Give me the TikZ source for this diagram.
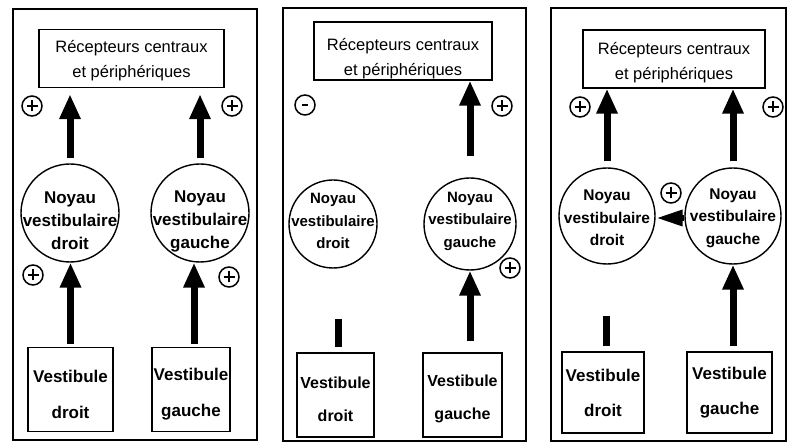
\documentclass[tikz,border=0pt]{standalone}
\usepackage{fontspec}
\setmainfont{Liberation Sans}
\usetikzlibrary{arrows.meta}
\begin{document}
\begin{tikzpicture}[x=1pt,y=-1pt,
  panel/.style={draw, line width=2pt},
  shapebox/.style={draw, line width=1.4pt, inner sep=0pt},
  noyau/.style={draw, circle, line width=1.4pt, inner sep=0pt},
  rectext/.style={align=center, inner sep=0pt, font=\fontsize{16.5}{25}\selectfont},
  noyautext/.style={align=center, inner sep=0pt, font=\bfseries\fontsize{17}{23}\selectfont},
  vesttext/.style={align=center, inner sep=0pt, font=\bfseries\fontsize{17}{36}\selectfont},
  sign/.style={draw, circle, line width=1.5pt, minimum size=20pt, inner sep=0pt},
  plussign/.style={sign, path picture={
      \draw[line width=1.5pt] (path picture bounding box.center) +(-5.5pt,0pt) -- +(5.5pt,0pt)
        (path picture bounding box.center) +(0pt,-5.5pt) -- +(0pt,5.5pt);}},
  minussign/.style={sign, path picture={
      \draw[line width=1.5pt] (path picture bounding box.center) +(-3pt,0pt) -- +(3pt,0pt);}},
  bigarrow/.style={line width=7pt, -{Triangle[width=20pt,length=25pt]}},
  sidearrow/.style={line width=6pt, -{Triangle[width=15pt,length=27pt]}},
  stub/.style={line width=7pt}
]
\useasboundingbox (0,0) rectangle (787,446);

% ---------- left panel: both sides excited ----------
\draw[panel] (13,9) rectangle (257,440);
\node[shapebox, minimum width=185pt, minimum height=58pt] (rec1) at (131.5,58.5) {};
\node[rectext] (rec1t) at ([yshift=-2.5pt]rec1.center) {Récepteurs centraux\\et périphériques};
\node[plussign] (p1a) at (32,106) {};
\node[plussign] (p1b) at (232,106) {};
\node[noyau, minimum size=98pt] (nd1) at (70,213) {};
\node[noyautext] (nd1t) at ([yshift=-8pt]nd1.center) {Noyau\\vestibulaire\\droit};
\node[noyau, minimum size=98pt] (ng1) at (200,213) {};
\node[noyautext] (ng1t) at ([yshift=-8pt]ng1.center) {Noyau\\vestibulaire\\gauche};
\node[plussign] (p1c) at (33,275) {};
\node[plussign] (p1d) at (229,277) {};
\node[shapebox, minimum width=85pt, minimum height=84pt] (vd1) at (70.5,389.5) {};
\node[vesttext] (vd1t) at ([yshift=-5pt]vd1.center) {Vestibule\\droit};
\node[shapebox, minimum width=78pt, minimum height=84pt] (vg1) at (191,389.5) {};
\node[vesttext] (vg1t) at ([yshift=-5pt]vg1.center) {Vestibule\\gauche};
\draw[bigarrow, shorten <=5pt, shorten >=6pt] (nd1.north) -- (nd1.north |- rec1.south);
\draw[bigarrow, shorten <=5pt, shorten >=6pt] (ng1.north) -- (ng1.north |- rec1.south);
\draw[bigarrow, shorten <=3pt] (vd1.north) -- (vd1.north |- nd1.south);
\draw[bigarrow, shorten <=3pt] ([xshift=3pt]vg1.north) -- ([xshift=3pt]vg1.north |- ng1.south);

% ---------- middle panel: right side silent ----------
\draw[panel] (283,8) rectangle (526,441);
\node[shapebox, minimum width=178pt, minimum height=58pt] (rec2) at (403,51) {};
\node[rectext] (rec2t) at ([yshift=-8pt]rec2.center) {Récepteurs centraux\\et périphériques};
\node[minussign] (m2a) at (305,105) {};
\node[plussign] (p2b) at (502,106) {};
\node[noyau, minimum size=88pt] (nd2) at (333,224) {};
\node[noyautext, font=\bfseries\fontsize{15}{22.5}\selectfont] (nd2t) at ([yshift=3pt]nd2.center) {Noyau\\vestibulaire\\droit};
\node[noyau, minimum size=92pt] (ng2) at (470,224) {};
\node[noyautext, font=\bfseries\fontsize{15}{22.5}\selectfont] (ng2t) at ([yshift=3pt]ng2.center) {Noyau\\vestibulaire\\gauche};
\node[plussign] (p2c) at (510,268) {};
\node[shapebox, minimum width=77pt, minimum height=84pt] (vd2) at (335.5,395) {};
\node[vesttext, font=\bfseries\fontsize{16}{33}\selectfont] (vd2t) at ([yshift=-4pt]vd2.center) {Vestibule\\droit};
\node[shapebox, minimum width=79pt, minimum height=84pt] (vg2) at (462.5,395) {};
\node[vesttext, font=\bfseries\fontsize{16}{33}\selectfont] (vg2t) at ([yshift=-4pt]vg2.center) {Vestibule\\gauche};
\draw[bigarrow, shorten <=21pt] (ng2.north) -- (ng2.north |- rec2.south);
\draw[bigarrow, shorten <=11pt] (ng2.south |- vg2.north) -- (ng2.south);
\draw[stub, shorten <=5pt, shorten >=50pt] ([xshift=2.5pt]vd2.north) -- ([xshift=2.5pt]vd2.north |- nd2.south);

% ---------- right panel: commissural drive ----------
\draw[panel] (551,8) rectangle (785.5,441);
\node[shapebox, minimum width=182pt, minimum height=58pt] (rec3) at (674,59) {};
\node[rectext] (rec3t) at ([yshift=-4pt]rec3.center) {Récepteurs centraux\\et périphériques};
\node[plussign] (p3a) at (580,107) {};
\node[plussign] (p3b) at (773,107) {};
\node[noyau, minimum size=96pt] (nd3) at (607,216) {};
\node[noyautext, font=\bfseries\fontsize{15.5}{22.5}\selectfont] (nd3t) at ([yshift=-2pt]nd3.center) {Noyau\\vestibulaire\\droit};
\node[noyau, minimum size=96pt] (ng3) at (733,216) {};
\node[noyautext, font=\bfseries\fontsize{15.5}{22.5}\selectfont] (ng3t) at ([yshift=-2pt]ng3.center) {Noyau\\vestibulaire\\gauche};
\node[plussign] (p3c) at (671,193) {};
\node[shapebox, minimum width=82pt, minimum height=81pt] (vd3) at (603,392.5) {};
\node[vesttext, font=\bfseries\fontsize{17}{35}\selectfont] (vd3t) at (vd3.center) {Vestibule\\droit};
\node[shapebox, minimum width=85pt, minimum height=81pt] (vg3) at (729.5,392.5) {};
\node[vesttext, font=\bfseries\fontsize{17}{35}\selectfont] (vg3t) at (vg3.center) {Vestibule\\gauche};
\draw[bigarrow, shorten <=6pt] (nd3.north) -- (nd3.north |- rec3.south);
\draw[bigarrow, shorten <=6pt] (ng3.north) -- (ng3.north |- rec3.south);
\draw[sidearrow] ([yshift=-2pt]ng3.west) -- ([yshift=-2pt]nd3.east);
\draw[bigarrow, shorten <=5pt] (ng3.south |- vg3.north) -- (ng3.south);
\draw[stub, shorten <=5pt, shorten >=51pt] ([xshift=3pt]vd3.north) -- ([xshift=3pt]vd3.north |- nd3.south);
\end{tikzpicture}
\end{document}
